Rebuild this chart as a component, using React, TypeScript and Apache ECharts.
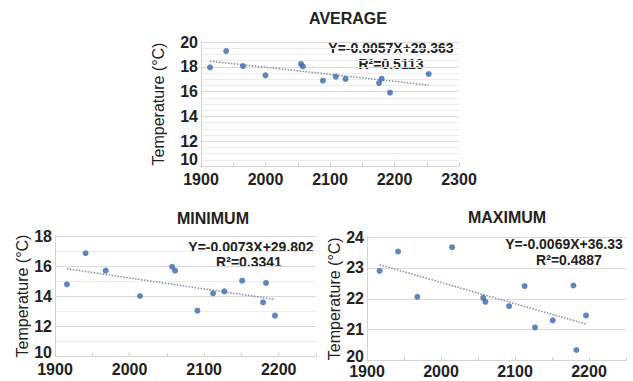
import React, { useEffect, useRef } from "react";
import * as echarts from "echarts";

// Average
const avgX = [1914, 1939, 1965, 2000, 2055, 2058, 2089, 2109, 2124, 2176, 2180, 2193, 2253];
const avgY = [17.96, 19.27, 18.06, 17.31, 18.23, 18.04, 16.88, 17.2, 17.02, 16.69, 17.04, 15.91, 17.42];
const avgFit = [-0.0057, 29.363];
const avgR2 = "0.5113";

// Minimum
const minX = [1916, 1941, 1968, 2014, 2057, 2061, 2091, 2112, 2127, 2151, 2179, 2183, 2195];
const minY = [14.78, 16.85, 15.69, 14.0, 15.95, 15.69, 13.02, 14.18, 14.31, 15.02, 13.58, 14.87, 12.69];
const minFit = [-0.0073, 29.802];
const minR2 = "0.3341";

// Maximum
const maxX = [1917, 1942, 1968, 2015, 2057, 2060, 2092, 2113, 2127, 2151, 2179, 2183, 2196];
const maxY = [22.9, 23.53, 22.06, 23.67, 22.03, 21.9, 21.76, 22.41, 21.07, 21.3, 22.43, 20.34, 21.46];
const maxFit = [-0.0069, 36.33];
const maxR2 = "0.4887";

const titles = ["AVERAGE", "MINIMUM", "MAXIMUM"];
const yName = "Temperature (°C)";

const FONT = "Liberation Sans, Arial, sans-serif";
const TXT = "#222222";
const DOT = "#3a68ad";

function pairs(xs: number[], ys: number[]) {
  return xs.map((x, i) => [x, ys[i]]);
}
function trend(xs: number[], fit: number[]) {
  const a = Math.min(...xs);
  const b = Math.max(...xs);
  return [
    [a, fit[0] * a + fit[1]],
    [b, fit[0] * b + fit[1]],
  ];
}
function eqText(fit: number[]) {
  return `Y=${fit[0]}X+${fit[1]}`;
}

function xAxisCfg(gridIndex: number, min: number, max: number, labelMax: number, margin: number) {
  return {
    type: "value",
    gridIndex,
    min,
    max,
    interval: 50,
    axisLine: { show: true, lineStyle: { color: "#d4d4d4", width: 1 } },
    axisTick: { show: true, inside: true, length: 3, lineStyle: { color: "#c8c8c8" } },
    splitLine: { show: false },
    axisLabel: {
      formatter: (v: number) => (v % 100 === 0 && v <= labelMax ? String(v) : ""),
      fontSize: 16,
      fontWeight: "bold",
      color: TXT,
      fontFamily: FONT,
      margin,
    },
  };
}

function yAxisCfg(
  gridIndex: number,
  min: number,
  max: number,
  interval: number,
  minor: number,
  nameGap: number,
  lift: number
) {
  const base = { fontSize: 16, fontWeight: "bold", color: TXT, fontFamily: FONT };
  return {
    type: "value",
    gridIndex,
    min,
    max,
    interval,
    name: yName,
    nameLocation: "middle",
    nameGap,
    nameTextStyle: { fontSize: 16, color: TXT, fontFamily: FONT },
    axisLine: { show: true, lineStyle: { color: "#d4d4d4", width: 1 } },
    axisTick: { show: false },
    splitLine: { show: true, lineStyle: { color: "#d9d9d9", width: 1 } },
    minorTick: { show: false, splitNumber: minor || 5 },
    minorSplitLine: { show: minor > 0, lineStyle: { color: "#ececec", width: 1 } },
    axisLabel: {
      ...base,
      margin: 3,
      formatter: (v: number) => (v === min ? `{lo|${v}}` : `${v}`),
      rich: { lo: { ...base, padding: [0, 0, lift * 2, 0] } },
    },
  };
}

function txt(x: number, y: number, text: string, size: number, weight: string) {
  return {
    type: "text",
    x,
    y,
    style: {
      text,
      fill: TXT,
      font: `${weight} ${size}px ${FONT}`,
      align: "center",
      verticalAlign: "middle",
    },
  };
}

export default function App() {
  const ref = useRef<HTMLDivElement>(null);
  useEffect(() => {
    if (!ref.current) return;
    const chart = echarts.init(ref.current, null, { renderer: "svg" });
    const scatter = (i: number, xs: number[], ys: number[]) => ({
      type: "scatter",
      xAxisIndex: i,
      yAxisIndex: i,
      data: pairs(xs, ys),
      symbolSize: 6,
      itemStyle: { color: DOT },
      z: 3,
    });
    const line = (i: number, xs: number[], fit: number[]) => ({
      type: "line",
      xAxisIndex: i,
      yAxisIndex: i,
      data: trend(xs, fit),
      showSymbol: false,
      symbol: "none",
      lineStyle: { type: [1.5, 1.5], width: 1.5, color: "#7d8ea8" },
      z: 2,
    });
    chart.setOption({
      animation: false,
      backgroundColor: "#ffffff",
      grid: [
        { left: 201, top: 42, width: 258, height: 124 },
        { left: 55, top: 236, width: 261, height: 120 },
        { left: 367, top: 237, width: 259, height: 123.5 },
      ],
      xAxis: [
        xAxisCfg(0, 1900, 2300, 2300, 5),
        xAxisCfg(1, 1900, 2250, 2200, 5),
        xAxisCfg(2, 1900, 2250, 2200, 3),
      ],
      yAxis: [
        yAxisCfg(0, 10, 20, 2, 4, 35, 7),
        yAxisCfg(1, 10, 18, 2, 2, 25, 4),
        yAxisCfg(2, 20, 24, 1, 0, 24, 4),
      ],
      series: [
        line(0, avgX, avgFit),
        scatter(0, avgX, avgY),
        line(1, minX, minFit),
        scatter(1, minX, minY),
        line(2, maxX, maxFit),
        scatter(2, maxX, maxY),
      ],
      graphic: [
        txt(348, 18, titles[0], 16, "bold"),
        txt(213, 218, titles[1], 16, "bold"),
        txt(507, 217, titles[2], 16, "bold"),
        txt(391, 48, eqText(avgFit), 14, "bold"),
        txt(391, 63.5, `R²=${avgR2}`, 14, "bold"),
        txt(251, 246.5, eqText(minFit), 14, "bold"),
        txt(249, 262, `R²=${minR2}`, 14, "bold"),
        txt(564, 244, eqText(maxFit), 14, "bold"),
        txt(569, 259.5, `R²=${maxR2}`, 14, "bold"),
      ],
    });
    return () => chart.dispose();
  }, []);
  return (
    <div
      ref={ref}
      style={{ position: "fixed", left: 0, top: 0, width: 633, height: 381, background: "#fff" }}
    />
  );
}
